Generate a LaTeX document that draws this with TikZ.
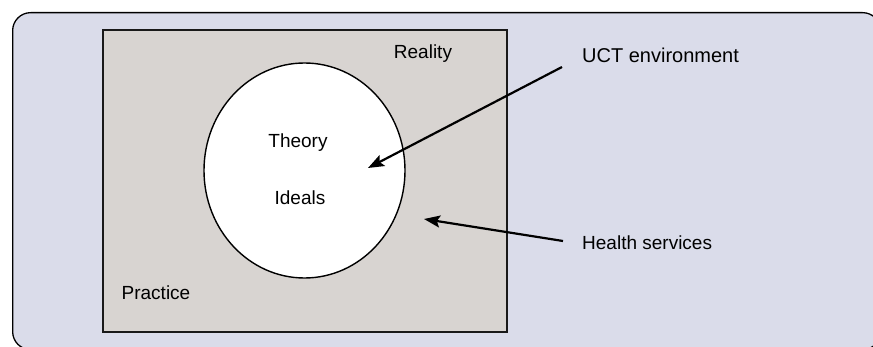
\documentclass[tikz,border=0pt]{standalone}
\usepackage{fontspec}
\setmainfont{Liberation Sans}
\usetikzlibrary{arrows.meta,shapes.geometric}
\definecolor{bglav}{RGB}{218,220,234}
\definecolor{boxgray}{RGB}{216,212,209}
\tikzset{
  lbl/.style={inner sep=0pt, font=\fontsize{19}{23}\selectfont, text=black},
  pointer/.style={line width=2.2pt, -{Stealth[length=16pt,width=12pt,inset=3pt]}},
}
\begin{document}
\begin{tikzpicture}[x=1pt,y=-1pt]
\useasboundingbox (0,0) rectangle (873,347);
\node[draw=black, line width=1.3pt, fill=bglav, rounded corners=18pt, minimum width=868pt, minimum height=337pt, inner sep=0pt, anchor=north west] (frame) at (12,12) {};
\node[draw=black!90, line width=2pt, fill=boxgray, minimum width=404pt, minimum height=302pt, inner sep=0pt, anchor=north west] (reality box) at (102,29) {};
\node[ellipse, draw=black, line width=1.4pt, fill=white, minimum width=201pt, minimum height=215pt, inner sep=0pt] (ideal) at (304.5,170.5) {};
\node[lbl] (theory) at (298,143) {Theory};
\node[lbl] (ideals) at (300,198) {Ideals};
\node[lbl] (reality) at (423,54) {Reality};
\node[lbl] (practice) at (156,293) {Practice};
\node[lbl, anchor=west] (uct) at (582,55) {\fontsize{20}{24}\selectfont UCT environment};
\node[lbl, anchor=west] (health) at (582,243) {Health services};
\coordinate (uctstart) at (562,67);
\coordinate (ucttip) at (368,168);
\coordinate (hsstart) at (563,241);
\coordinate (hstip) at (424,219);
\draw[pointer] (uctstart) -- (ucttip);
\draw[pointer] (hsstart) -- (hstip);
\end{tikzpicture}
\end{document}
